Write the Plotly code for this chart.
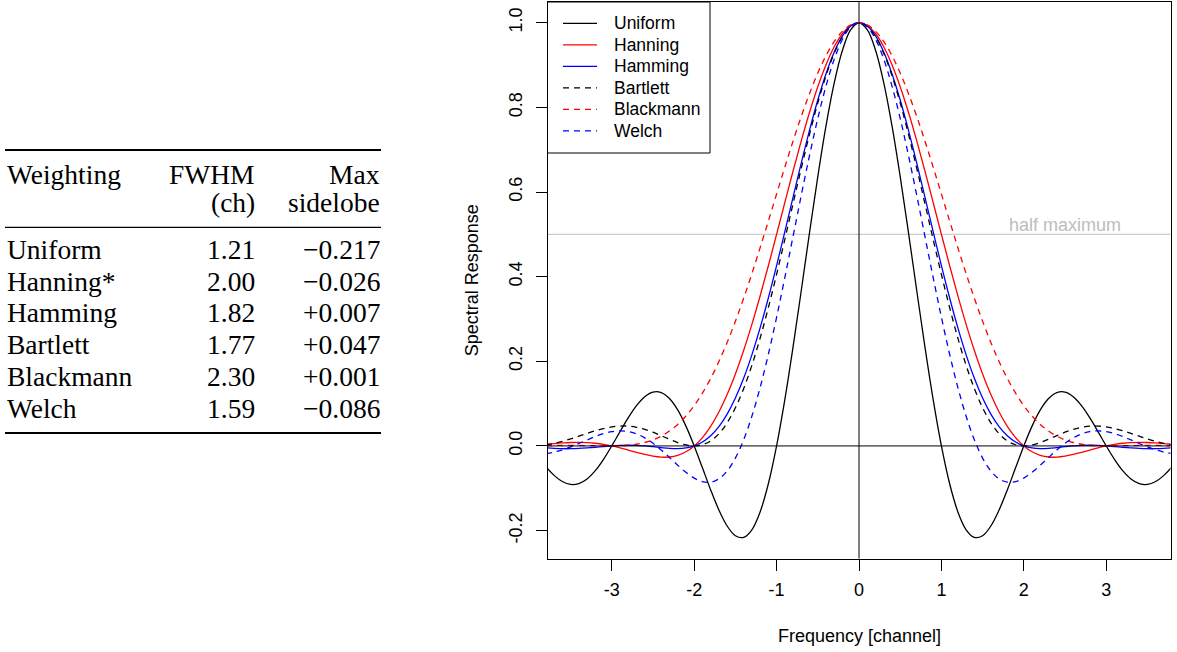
import plotly.graph_objects as go

W, H = 1177, 652

# spectral response of the lag weightings
freq = [-3.8, -3.7, -3.6, -3.5, -3.4, -3.3, -3.2, -3.1, -3.0, -2.9,
        -2.8, -2.7, -2.6, -2.5, -2.4, -2.3, -2.2, -2.1, -2.0, -1.9,
        -1.8, -1.7, -1.6, -1.5, -1.4, -1.3, -1.2, -1.1, -1.0, -0.9,
        -0.8, -0.7, -0.6, -0.5, -0.4, -0.3, -0.2, -0.1,
        0.0,
        0.1, 0.2, 0.3, 0.4, 0.5, 0.6, 0.7, 0.8, 0.9, 1.0,
        1.1, 1.2, 1.3, 1.4, 1.5, 1.6, 1.7, 1.8, 1.9, 2.0,
        2.1, 2.2, 2.3, 2.4, 2.5, 2.6, 2.7, 2.8, 2.9, 3.0,
        3.1, 3.2, 3.3, 3.4, 3.5, 3.6, 3.7, 3.8]

uniform = [-0.0492, -0.0696, -0.0841, -0.0909, -0.0890, -0.0780, -0.0585, -0.0317, 0, 0.0339,
           0.0668, 0.0954, 0.1164, 0.1273, 0.1261, 0.1120, 0.0851, 0.0468, 0, -0.0518,
           -0.1039, -0.1515, -0.1892, -0.2122, -0.2162, -0.1981, -0.1559, -0.0894, 0, 0.1093,
           0.2339, 0.3679, 0.5046, 0.6366, 0.7568, 0.8584, 0.9355, 0.9836,
           1,
           0.9836, 0.9355, 0.8584, 0.7568, 0.6366, 0.5046, 0.3679, 0.2339, 0.1093, 0,
           -0.0894, -0.1559, -0.1981, -0.2162, -0.2122, -0.1892, -0.1515, -0.1039, -0.0518, 0,
           0.0468, 0.0851, 0.1120, 0.1261, 0.1273, 0.1164, 0.0954, 0.0668, 0.0339, 0,
           -0.0317, -0.0585, -0.0780, -0.0890, -0.0909, -0.0841, -0.0696, -0.0492]
hanning = [0.0037, 0.0055, 0.0070, 0.0081, 0.0084, 0.0079, 0.0063, 0.0037, 0, -0.0046,
           -0.0098, -0.0152, -0.0202, -0.0243, -0.0265, -0.0261, -0.0222, -0.0137, 0, 0.0198,
           0.0464, 0.0802, 0.1213, 0.1698, 0.2253, 0.2871, 0.3544, 0.4258, 0.5, 0.5752,
           0.6496, 0.7214, 0.7884, 0.8488, 0.9010, 0.9433, 0.9745, 0.9936,
           1,
           0.9936, 0.9745, 0.9433, 0.9010, 0.8488, 0.7884, 0.7214, 0.6496, 0.5752, 0.5,
           0.4258, 0.3544, 0.2871, 0.2253, 0.1698, 0.1213, 0.0802, 0.0464, 0.0198, 0,
           -0.0137, -0.0222, -0.0261, -0.0265, -0.0243, -0.0202, -0.0152, -0.0098, -0.0046, 0,
           0.0037, 0.0063, 0.0079, 0.0084, 0.0081, 0.0070, 0.0055, 0.0037]
hamming = [-0.0042, -0.0056, -0.0065, -0.0066, -0.0060, -0.0048, -0.0033, -0.0016, 0, 0.0011,
           0.0016, 0.0012, 0.0000, -0.0018, -0.0039, -0.0057, -0.0063, -0.0048, 0, 0.0092,
           0.0241, 0.0458, 0.0753, 0.1132, 0.1598, 0.2152, 0.2788, 0.3495, 0.4259, 0.5062,
           0.5880, 0.6690, 0.7463, 0.8174, 0.8796, 0.9307, 0.9687, 0.9921,
           1,
           0.9921, 0.9687, 0.9307, 0.8796, 0.8174, 0.7463, 0.6690, 0.5880, 0.5062, 0.4259,
           0.3495, 0.2788, 0.2152, 0.1598, 0.1132, 0.0753, 0.0458, 0.0241, 0.0092, 0,
           -0.0048, -0.0063, -0.0057, -0.0039, -0.0018, 0.0000, 0.0012, 0.0016, 0.0011, 0,
           -0.0016, -0.0033, -0.0048, -0.0060, -0.0066, -0.0065, -0.0056, -0.0042]
bartlett = [0.0027, 0.0061, 0.0108, 0.0165, 0.0230, 0.0296, 0.0358, 0.0411, 0.0450, 0.0470,
            0.0468, 0.0441, 0.0392, 0.0324, 0.0243, 0.0158, 0.0080, 0.0023, 0, 0.0028,
            0.0119, 0.0289, 0.0547, 0.0901, 0.1353, 0.1904, 0.2546, 0.3268, 0.4053, 0.4881,
            0.5728, 0.6567, 0.7368, 0.8106, 0.8751, 0.9281, 0.9675, 0.9918,
            1,
            0.9918, 0.9675, 0.9281, 0.8751, 0.8106, 0.7368, 0.6567, 0.5728, 0.4881, 0.4053,
            0.3268, 0.2546, 0.1904, 0.1353, 0.0901, 0.0547, 0.0289, 0.0119, 0.0028, 0,
            0.0023, 0.0080, 0.0158, 0.0243, 0.0324, 0.0392, 0.0441, 0.0468, 0.0470, 0.0450,
            0.0411, 0.0358, 0.0296, 0.0230, 0.0165, 0.0108, 0.0061, 0.0027]
blackmann = [0.0008, 0.0011, 0.0012, 0.0012, 0.0011, 0.0008, 0.0004, 0.0001, 0, 0.0004,
             0.0016, 0.0040, 0.0081, 0.0142, 0.0231, 0.0351, 0.0508, 0.0707, 0.0952, 0.1248,
             0.1594, 0.1994, 0.2445, 0.2945, 0.3489, 0.4071, 0.4683, 0.5313, 0.5952, 0.6587,
             0.7204, 0.7789, 0.8329, 0.8812, 0.9224, 0.9557, 0.9801, 0.9950,
             1,
             0.9950, 0.9801, 0.9557, 0.9224, 0.8812, 0.8329, 0.7789, 0.7204, 0.6587, 0.5952,
             0.5313, 0.4683, 0.4071, 0.3489, 0.2945, 0.2445, 0.1994, 0.1594, 0.1248, 0.0952,
             0.0707, 0.0508, 0.0351, 0.0231, 0.0142, 0.0081, 0.0040, 0.0016, 0.0004, 0,
             0.0001, 0.0004, 0.0008, 0.0011, 0.0012, 0.0012, 0.0011, 0.0008]
welch = [-0.0181, -0.0146, -0.0092, -0.0023, 0.0058, 0.0142, 0.0223, 0.0291, 0.0338, 0.0356,
         0.0340, 0.0285, 0.0191, 0.0062, -0.0097, -0.0273, -0.0455, -0.0623, -0.0760, -0.0844,
         -0.0857, -0.0778, -0.0592, -0.0287, 0.0144, 0.0701, 0.1379, 0.2165, 0.3040, 0.3979,
         0.4953, 0.5928, 0.6869, 0.7740, 0.8507, 0.9140, 0.9611, 0.9902,
         1,
         0.9902, 0.9611, 0.9140, 0.8507, 0.7740, 0.6869, 0.5928, 0.4953, 0.3979, 0.3040,
         0.2165, 0.1379, 0.0701, 0.0144, -0.0287, -0.0592, -0.0778, -0.0857, -0.0844, -0.0760,
         -0.0623, -0.0455, -0.0273, -0.0097, 0.0062, 0.0191, 0.0285, 0.0340, 0.0356, 0.0338,
         0.0291, 0.0223, 0.0142, 0.0058, -0.0023, -0.0092, -0.0146, -0.0181]

series_names = ["Uniform", "Hanning", "Hamming", "Bartlett", "Blackmann", "Welch"]
series_values = [uniform, hanning, hamming, bartlett, blackmann, welch]

x_ticks = [-3, -2, -1, 0, 1, 2, 3]
x_ticklabels = ["-3", "-2", "-1", "0", "1", "2", "3"]
y_ticks = [-0.2, 0.0, 0.2, 0.4, 0.6, 0.8, 1.0]
y_ticklabels = ["-0.2", "0.0", "0.2", "0.4", "0.6", "0.8", "1.0"]

# table values
table_names = ["Uniform", "Hanning*", "Hamming", "Bartlett", "Blackmann", "Welch"]
table_fwhm = [1.21, 2.00, 1.82, 1.77, 2.30, 1.59]
table_sidelobe = [-0.217, -0.026, 0.007, 0.047, 0.001, -0.086]

colors = ["black", "red", "blue", "black", "red", "blue"]
dashes = ["solid", "solid", "solid", "6px,5px", "6px,5px", "6px,5px"]

SANS = "Liberation Sans, Arial, sans-serif"
SERIF = "Liberation Serif, Times New Roman, serif"


def px(x):
    return x / W


def py(y):
    return 1 - y / H


fig = go.Figure()

for name, vals, col, dash in zip(series_names, series_values, colors, dashes):
    fig.add_trace(go.Scatter(
        x=freq, y=vals, mode="lines", name=name,
        line=dict(color=col, width=1.3, dash=dash, shape="spline", smoothing=1),
        showlegend=False,
    ))

shapes = []
annotations = []

# reference lines
shapes.append(dict(type="line", xref="x domain", yref="y", x0=0, x1=1, y0=0.5, y1=0.5,
                   line=dict(color="#cccccc", width=1.2), layer="below"))
shapes.append(dict(type="line", xref="x domain", yref="y", x0=0, x1=1, y0=0, y1=0,
                   line=dict(color="black", width=1)))
shapes.append(dict(type="line", xref="x", yref="y domain", x0=0, x1=0, y0=0, y1=1,
                   line=dict(color="black", width=1)))
annotations.append(dict(x=2.5, y=0.5, xref="x", yref="y", text="half maximum",
                        showarrow=False, yshift=9, yanchor="middle",
                        font=dict(family=SANS, size=18, color="#bdbdbd")))

# legend box (drawn by hand to match the row spacing)
leg_left, leg_top, leg_right, leg_bottom = 547.5, 2, 710, 153
shapes.append(dict(type="rect", xref="paper", yref="paper",
                   x0=px(leg_left), x1=px(leg_right), y0=py(leg_bottom), y1=py(leg_top),
                   line=dict(color="black", width=1), fillcolor="white", layer="above"))
for i, (name, col, dash) in enumerate(zip(series_names, colors, dashes)):
    yy = 23.3 + 21.5 * i
    shapes.append(dict(type="line", xref="paper", yref="paper",
                       x0=px(563), x1=px(597), y0=py(yy), y1=py(yy),
                       line=dict(color=col, width=1.3, dash=dash), layer="above"))
    annotations.append(dict(x=px(612), y=py(yy), xref="paper", yref="paper", text=name,
                            showarrow=False, xanchor="left", yanchor="middle",
                            font=dict(family=SANS, size=17.5, color="black")))

# axis titles
annotations.append(dict(x=0.5, y=py(636), xref="x domain", yref="paper",
                        text="Frequency [channel]", showarrow=False,
                        xanchor="center", yanchor="middle",
                        font=dict(family=SANS, size=18, color="black")))
annotations.append(dict(x=px(472), y=0.5, xref="paper", yref="y domain",
                        text="Spectral Response", showarrow=False, textangle=-90,
                        xanchor="center", yanchor="middle",
                        font=dict(family=SANS, size=18, color="black")))

# table on the left
tfont = dict(family=SERIF, size=27.5, color="black")
col1_left, col2_right, col3_right = 6, 256, 381
for yy, width in [(150, 2), (227.3, 1.3), (433, 2)]:
    shapes.append(dict(type="line", xref="paper", yref="paper",
                       x0=px(5), x1=px(381), y0=py(yy), y1=py(yy),
                       line=dict(color="black", width=width)))


def cell(x, y, text, anchor):
    annotations.append(dict(x=px(x), y=py(y), xref="paper", yref="paper", text=text,
                            showarrow=False, xanchor=anchor, yanchor="middle",
                            font=tfont, borderpad=0))


cell(col1_left, 174.5, "Weighting", "left")
cell(col2_right, 174.5, "FWHM", "right")
cell(col3_right, 174.5, "Max", "right")
cell(col2_right, 202.5, "(ch)", "right")
cell(col3_right, 202.5, "sidelobe", "right")
for i, (name, fw, sl) in enumerate(zip(table_names, table_fwhm, table_sidelobe)):
    yy = 249.5 + 31.7 * i
    cell(col1_left, yy, name, "left")
    cell(col2_right, yy, f"{fw:.2f}", "right")
    cell(col3_right, yy, f"{sl:+.3f}".replace("-", "\u2212"), "right")

fig.update_layout(
    width=W, height=H,
    margin=dict(l=0, r=0, t=0, b=0),
    paper_bgcolor="white", plot_bgcolor="white",
    showlegend=False,
    shapes=shapes, annotations=annotations,
    xaxis=dict(domain=[px(547.5), px(1170.5)], range=[-3.78, 3.78],
               tickvals=x_ticks, ticktext=x_ticklabels,
               ticks="outside", ticklen=11, tickcolor="black",
               showline=True, mirror=True, linecolor="black", linewidth=1,
               showgrid=False, zeroline=False, automargin=False,
               tickfont=dict(family=SANS, size=18, color="black"),
               ticklabelstandoff=4),
    yaxis=dict(domain=[py(558.5), py(2)], range=[-0.266, 1.049],
               tickvals=y_ticks, ticktext=y_ticklabels, tickangle=-90,
               ticks="outside", ticklen=11, tickcolor="black",
               showline=True, mirror=True, linecolor="black", linewidth=1,
               showgrid=False, zeroline=False, automargin=False,
               tickfont=dict(family=SANS, size=18, color="black"),
               ticklabelstandoff=6),
)

# the page body has a default 8px margin; drop it so the figure fills the window
fig.write_html("out.html", config={"displayModeBar": False},
               post_script="document.body.style.margin = '0';")
